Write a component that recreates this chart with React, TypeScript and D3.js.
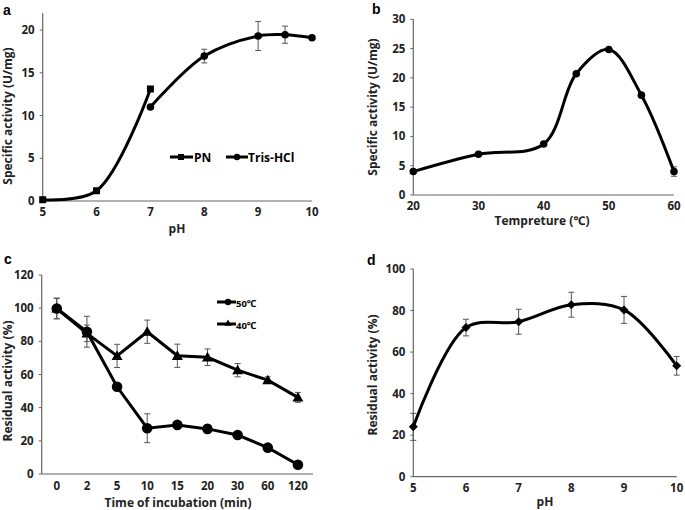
import * as d3 from "d3";

// panel a: specific activity vs pH
const phPN = [5, 6, 7];
const actPN = [0.15, 1.2, 13.1];
const phTris = [7, 8, 9, 9.5, 10];
const actTris = [11.0, 16.95, 19.3, 19.45, 19.1];
const errTris = [0, 0.8, 1.7, 1.0, 0];
const phTicks = [5, 6, 7, 8, 9, 10];
const actTicksA = [0, 5, 10, 15, 20];

// panel b: specific activity vs temperature
const temps = [20, 30, 40, 45, 50, 55, 60];
const actTemp = [4.0, 6.95, 8.7, 20.7, 24.85, 17.05, 4.0];
const errTemp = [0, 0, 0, 0, 0, 0, 0.8];
const tempTicks = [20, 30, 40, 50, 60];
const actTicksB = [0, 5, 10, 15, 20, 25, 30];

// panel c: thermal stability
const times = ["0", "2", "5", "10", "15", "20", "30", "60", "120"];
const res50 = [99.8, 85.8, 52.6, 27.6, 29.6, 27.2, 23.5, 15.9, 5.6];
const err50 = [6.2, 9.3, 1, 8.7, 2, 2.5, 1.2, 1, 1];
const res40 = [99.8, 84.8, 71.2, 85.8, 71.3, 70.4, 62.6, 56.6, 46.2];
const err40 = [6.2, 5, 7, 7, 7, 5, 4, 2, 3];
const resTicksC = [0, 20, 40, 60, 80, 100, 120];

// panel d: pH stability
const phStab = [5, 6, 7, 8, 9, 10];
const resStab = [24, 71.8, 74.6, 82.8, 80.3, 53.4];
const errStab = [6.5, 4, 6, 6, 6.5, 4.5];
const resTicksD = [0, 20, 40, 60, 80, 100];

const FONT = "'Open Sans', 'Noto Sans', sans-serif";
const AXIS = "#666";

function ErrorBars({ xs, ys, es, x, y }: any) {
  return (
    <g stroke="#555" strokeWidth={1}>
      {xs.map((xv: any, i: number) =>
        es[i] > 0 ? (
          <g key={i}>
            <line x1={x(xv)} x2={x(xv)} y1={y(ys[i] - es[i])} y2={y(ys[i] + es[i])} />
            <line x1={x(xv) - 3} x2={x(xv) + 3} y1={y(ys[i] - es[i])} y2={y(ys[i] - es[i])} />
            <line x1={x(xv) - 3} x2={x(xv) + 3} y1={y(ys[i] + es[i])} y2={y(ys[i] + es[i])} />
          </g>
        ) : null
      )}
    </g>
  );
}

function Axes({ x, y, xTicks, yTicks, x0, x1, y0, y1, xLabelY }: any) {
  return (
    <g fontFamily={FONT} fontWeight="bold" fontSize={11.5} fill="#222">
      <line x1={x0} x2={x0} y1={y0} y2={y1} stroke={AXIS} strokeWidth={1.2} />
      <line x1={x0} x2={x1} y1={y0} y2={y0} stroke={AXIS} strokeWidth={1.2} />
      {yTicks.map((t: number) => (
        <g key={"y" + t}>
          <line x1={x0 - 3} x2={x0} y1={y(t)} y2={y(t)} stroke={AXIS} />
          <text x={x0 - 8} y={y(t) + 4} textAnchor="end">{t}</text>
        </g>
      ))}
      {xTicks.map((t: any) => (
        <text key={"x" + t} x={x(t)} y={xLabelY} textAnchor="middle">
          {t}
        </text>
      ))}
    </g>
  );
}

function Title({ x, y, text, rotate }: any) {
  return (
    <text
      x={x}
      y={y}
      textAnchor="middle"
      fontFamily={FONT}
      fontWeight="bold"
      fontSize={12}
      fill="#222"
      transform={rotate ? `rotate(-90 ${x} ${y})` : undefined}
    >
      {text}
    </text>
  );
}

function Letter({ x, y, t }: any) {
  return (
    <text x={x} y={y} fontFamily="'Liberation Sans', Arial, sans-serif" fontWeight="bold" fontSize={14}>
      {t}
    </text>
  );
}

function diamond(cx: number, cy: number, r: number) {
  return `M${cx},${cy - r}L${cx + r},${cy}L${cx},${cy + r}L${cx - r},${cy}Z`;
}
function triangle(cx: number, cy: number, r: number) {
  return `M${cx},${cy - r}L${cx + r},${cy + r * 0.75}L${cx - r},${cy + r * 0.75}Z`;
}

export default function App() {
  const curve = d3.curveCatmullRom.alpha(0.5);

  // a
  const xa = d3.scaleLinear().domain([5, 10]).range([42.7, 312]);
  const ya = d3.scaleLinear().domain([0, 22]).range([201, 12.9]);
  const lineA = d3.line<[number, number]>().x((d) => xa(d[0])).y((d) => ya(d[1])).curve(curve);

  // b
  const xb = d3.scaleLinear().domain([20, 60]).range([413.3, 674]);
  const yb = d3.scaleLinear().domain([0, 30]).range([195, 19.3]);
  const lineB = d3.line<[number, number]>().x((d) => xb(d[0])).y((d) => yb(d[1])).curve(curve);

  // c
  const xc = d3.scalePoint<string>().domain(times).range([41.7, 313]).padding(0.5);
  const yc = d3.scaleLinear().domain([0, 120]).range([474, 275]);
  const lineC = d3.line<[string, number]>().x((d) => xc(d[0])!).y((d) => yc(d[1]));

  // d
  const xd = d3.scaleLinear().domain([5, 10]).range([413.3, 676.7]);
  const yd = d3.scaleLinear().domain([0, 100]).range([476.7, 269]);
  const lineD = d3.line<[number, number]>().x((d) => xd(d[0])).y((d) => yd(d[1])).curve(curve);

  return (
    <svg width={685} height={510} style={{ position: "absolute", left: 0, top: 0 }}>
      <rect width={685} height={510} fill="#fff" />

      {/* panel a */}
      <Letter x={3} y={15} t="a" />
      <Axes x={xa} y={ya} xTicks={phTicks} yTicks={actTicksA} x0={42.7} x1={312} y0={201} y1={12.9} xLabelY={216} />
      <Title x={12} y={116} text="Specific activity (U/mg)" rotate />
      <Title x={177} y={233} text="pH" />
      <ErrorBars xs={phTris} ys={actTris} es={errTris} x={xa} y={ya} />
      <path d={lineA(phPN.map((p, i) => [p, actPN[i]]))!} fill="none" stroke="#000" strokeWidth={3} />
      <path d={lineA(phTris.map((p, i) => [p, actTris[i]]))!} fill="none" stroke="#000" strokeWidth={3} />
      {phPN.map((p, i) => (
        <rect key={i} x={xa(p) - 3.5} y={ya(actPN[i]) - 3.5} width={7} height={7} fill="#000" />
      ))}
      {phTris.map((p, i) => (
        <circle key={i} cx={xa(p)} cy={ya(actTris[i])} r={3.8} fill="#000" />
      ))}
      <g fontFamily={FONT} fontWeight="bold" fontSize={12}>
        <line x1={170} x2={193} y1={157} y2={157} stroke="#000" strokeWidth={3} />
        <rect x={178} y={154} width={6} height={6} />
        <text x={194} y={161.5}>PN</text>
        <line x1={226} x2={248} y1={157} y2={157} stroke="#000" strokeWidth={3} />
        <circle cx={237} cy={157} r={3.2} />
        <text x={248} y={161.5}>Tris-HCl</text>
      </g>

      {/* panel b */}
      <Letter x={372} y={14} t="b" />
      <Axes x={xb} y={yb} xTicks={tempTicks} yTicks={actTicksB} x0={413.3} x1={674} y0={195} y1={19.3} xLabelY={210} />
      <Title x={377} y={107} text="Specific activity (U/mg)" rotate />
      <Title x={542} y={225} text="Tempreture (℃)" />
      <ErrorBars xs={temps} ys={actTemp} es={errTemp} x={xb} y={yb} />
      <path d={lineB(temps.map((t, i) => [t, actTemp[i]]))!} fill="none" stroke="#000" strokeWidth={3} />
      {temps.map((t, i) => (
        <circle key={i} cx={xb(t)} cy={yb(actTemp[i])} r={3.8} fill="#000" />
      ))}

      {/* panel c */}
      <Letter x={4} y={264} t="c" />
      <Axes x={xc} y={yc} xTicks={times} yTicks={resTicksC} x0={41.7} x1={313} y0={474} y1={275} xLabelY={489.5} />
      <Title x={12} y={381} text="Residual activity (%)" rotate />
      <Title x={178} y={507} text="Time of incubation (min)" />
      <ErrorBars xs={times} ys={res50} es={err50} x={xc} y={yc} />
      <ErrorBars xs={times} ys={res40} es={err40} x={xc} y={yc} />
      <path d={lineC(times.map((t, i) => [t, res40[i]]))!} fill="none" stroke="#000" strokeWidth={3} />
      <path d={lineC(times.map((t, i) => [t, res50[i]]))!} fill="none" stroke="#000" strokeWidth={3} />
      {times.map((t, i) => (
        <path key={"t" + i} d={triangle(xc(t)!, yc(res40[i]), 5.5)} fill="#000" />
      ))}
      {times.map((t, i) => (
        <circle key={"c" + i} cx={xc(t)!} cy={yc(res50[i])} r={5.3} fill="#000" />
      ))}
      <g fontFamily={FONT} fontWeight="bold" fontSize={9.5}>
        <line x1={217} x2={236} y1={302} y2={302} stroke="#000" strokeWidth={3} />
        <circle cx={228} cy={302} r={3.2} />
        <text x={236} y={307}>50℃</text>
        <line x1={217} x2={236} y1={324} y2={324} stroke="#000" strokeWidth={3} />
        <path d={triangle(228, 323, 3.5)} />
        <text x={236} y={329}>40℃</text>
      </g>

      {/* panel d */}
      <Letter x={367} y={265} t="d" />
      <Axes x={xd} y={yd} xTicks={phStab} yTicks={resTicksD} x0={413.3} x1={676.7} y0={476.7} y1={269} xLabelY={492} />
      <Title x={377} y={375} text="Residual activity (%)" rotate />
      <Title x={545} y={506} text="pH" />
      <ErrorBars xs={phStab} ys={resStab} es={errStab} x={xd} y={yd} />
      <path d={lineD(phStab.map((p, i) => [p, resStab[i]]))!} fill="none" stroke="#000" strokeWidth={3} />
      {phStab.map((p, i) => (
        <path key={i} d={diamond(xd(p), yd(resStab[i]), 4.5)} fill="#000" />
      ))}
    </svg>
  );
}
